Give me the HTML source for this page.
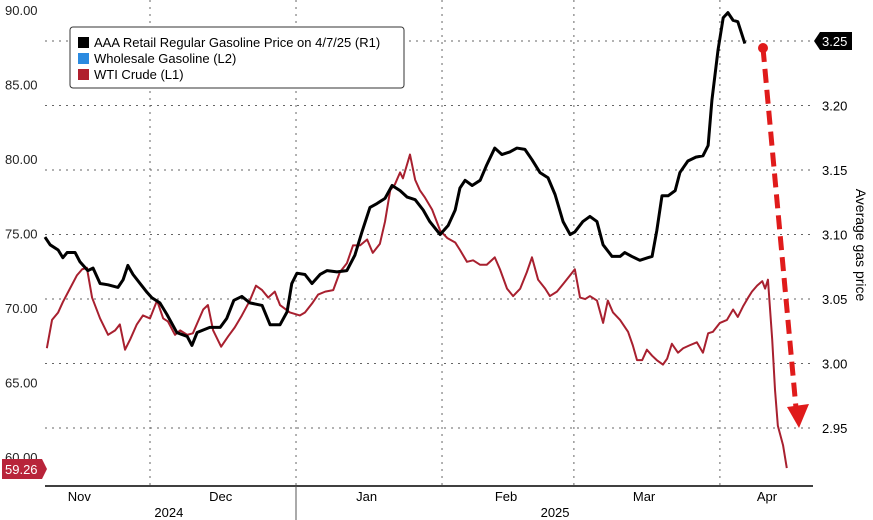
<!DOCTYPE html>
<html><head><meta charset="utf-8"><style>
body{margin:0;background:#fff;}
svg{display:block;font-family:"Liberation Sans",sans-serif;}
</style></head><body>
<svg id="chart" width="873" height="520">
<g id="grid"></g>
<g id="lines"></g>
<g id="axes"></g>
<g>
<rect x="70" y="27" width="334" height="61" rx="3" fill="#fff" stroke="#333" stroke-width="1"/>
<rect x="78" y="37" width="11" height="11" fill="#000"/>
<text x="94" y="47" font-size="13">AAA Retail Regular Gasoline Price on 4/7/25 (R1)</text>
<rect x="78" y="53" width="11" height="11" fill="#2a8ae0"/>
<text x="94" y="63" font-size="13">Wholesale Gasoline (L2)</text>
<rect x="78" y="69" width="11" height="11" fill="#b0202e"/>
<text x="94" y="79" font-size="13">WTI Crude (L1)</text>
</g>
<text transform="translate(856,245) rotate(90)" text-anchor="middle" font-size="14">Average gas price</text>
</svg>
<script>
const ns="http://www.w3.org/2000/svg";
const leftTicks=[90,85,80,75,70,65,60];
const rightTicks=[3.25,3.20,3.15,3.10,3.05,3.00,2.95];
const months=["Nov","Dec","Jan","Feb","Mar","Apr"];
const monthDays=[-15,15,46,75.6,104.9,131];
const monthBounds=[0,31,62,90,121];
const years=["2024","2025"];
const yearDays=[4,86];
const retailDays=[-22.3,-21.2,-19.5,-18.5,-17.6,-15.9,-14.9,-13.2,-12.1,-10.6,-8.9,-6.8,-5.7,-4.7,-3.6,-2.1,-0.6,0.4,2.1,3.6,5.7,7.9,8.9,10,11.3,12.7,14.9,16.3,17.8,19.5,21.2,23.8,25.5,27.6,29.1,30.1,31.2,32.9,34.4,36.1,37.6,39.7,41.8,43.5,45,46.7,48.2,49.9,51.4,53.1,54.6,56.3,58,59.4,61.6,63.3,64.8,65.8,66.9,68.4,70.1,71.5,73.2,74.7,76.4,77.9,79.6,81.1,82.8,84.5,86,87.7,89.2,90.2,91.9,93.4,94.9,96.2,98.1,99.8,100.8,102.3,104,105.7,106.6,107.6,108.7,110,111.5,112.5,114.2,115.9,117.4,118.5,119.3,120.6,121.7,122.7,123.8,124.8,126.3];
const retailVals=[3.098,3.092,3.088,3.082,3.086,3.086,3.079,3.072,3.074,3.062,3.061,3.059,3.065,3.076,3.069,3.062,3.055,3.051,3.047,3.038,3.024,3.021,3.014,3.024,3.026,3.028,3.028,3.035,3.049,3.052,3.047,3.045,3.030,3.030,3.040,3.062,3.070,3.069,3.062,3.069,3.072,3.071,3.072,3.084,3.102,3.121,3.124,3.128,3.138,3.134,3.129,3.127,3.119,3.110,3.100,3.107,3.119,3.136,3.142,3.138,3.142,3.154,3.167,3.162,3.164,3.167,3.166,3.158,3.148,3.144,3.131,3.110,3.100,3.102,3.110,3.114,3.110,3.092,3.083,3.083,3.086,3.083,3.080,3.082,3.083,3.103,3.130,3.130,3.134,3.148,3.157,3.160,3.161,3.169,3.204,3.243,3.268,3.272,3.266,3.265,3.248];
const wtiDays=[-21.9,-20.8,-19.5,-18.5,-17,-15.5,-14.4,-13.4,-12.3,-10.6,-8.9,-7.4,-6.4,-5.3,-4.2,-2.8,-1.5,0,1.5,2.8,3.8,5.3,6.4,7.9,9.1,10.2,11.3,12.3,13.4,15.1,16.6,18,19.5,21.2,22.5,23.8,25.1,26.5,27.6,29.7,31.8,32.9,34.4,35.7,37.2,38.9,40.3,41.8,43.1,44.6,46.1,47.3,48.8,49.9,51,52,53.1,53.7,55.2,56.3,57.3,58.4,59.9,61.6,63.1,64.8,65.8,67.3,68.6,70.1,71.5,73.2,74.3,75.8,77.1,78.6,80,81.1,82.4,83.9,84.9,86.4,87.7,89.2,90.2,91.3,92.4,93.4,94.9,96.2,97.2,98.3,99.8,101.5,102.5,103.4,104.5,105.5,106.6,107.6,108.9,109.8,110.8,112.1,113.2,114.6,116.1,117.4,118.5,119.5,121,122.5,123.8,124.8,125.9,127,127.8,128.9,130,130.6,131.2,132.1,132.7,133.3,134.4,135.2];
const wtiVals=[67.3,69.2,69.7,70.4,71.3,72.2,72.6,72.7,70.7,69.3,68.2,68.5,68.9,67.2,67.9,68.9,69.5,69.3,70.5,69.3,69.1,68.2,68.5,68.2,68.3,69.1,69.9,70.2,68.5,67.4,68.1,68.7,69.5,70.5,71.5,71.2,70.7,71.1,70.2,69.7,69.5,69.7,70.3,70.9,71.1,71.2,72.4,73.0,74.2,74.2,74.6,73.7,74.3,75.8,77.9,78.3,79.1,78.7,80.3,78.6,77.9,77.4,76.6,75.2,74.7,74.4,73.9,73.1,73.2,72.9,72.9,73.4,72.6,71.3,70.8,71.3,72.4,73.4,71.9,71.3,70.8,71.1,71.6,72.2,72.6,70.7,70.6,70.8,70.5,69.0,70.5,69.7,69.2,68.4,67.5,66.5,66.5,67.2,66.8,66.5,66.2,66.6,67.6,67.0,67.3,67.5,67.7,67.0,68.3,68.4,69.0,69.2,69.9,69.4,70.1,70.7,71.1,71.5,71.8,71.3,71.9,67.9,64.5,62.1,60.8,59.26];
const lastWti=59.26, lastRetail=3.25;

const xOf=d=>150+d*4.71;
const yL=v=>10+(90-v)*14.9;
const yR=v=>41+(3.25-v)*1290;
const X0=45,X1=813,YB=486;
function el(tag,attrs,parent,text){const e=document.createElementNS(ns,tag);for(const k in attrs)e.setAttribute(k,attrs[k]);if(text!==undefined)e.textContent=text;parent.appendChild(e);return e;}
const grid=document.getElementById('grid'),axes=document.getElementById('axes'),lines=document.getElementById('lines');
rightTicks.forEach(t=>{
  const g=el('line',{x1:X0,x2:X1,y1:yR(t),y2:yR(t),stroke:'#666','stroke-dasharray':'2,5','stroke-width':1},grid);
  
  
  if(t!==lastRetail){const tx=el('text',{x:822,y:yR(t)+5,'font-size':13},axes,t.toFixed(2));
  
  }
});
leftTicks.forEach(t=>{
  const tx=el('text',{x:5,y:yL(t)+5,'font-size':13,fill:'#222'},axes,t.toFixed(2));
  
  
});
monthBounds.forEach(d=>{
  const g=el('line',{x1:xOf(d),x2:xOf(d),y1:0,y2:YB,stroke:'#666','stroke-dasharray':'2,5','stroke-width':1},grid);
  
  
});
const ax=el('line',{x1:X0,x2:X1,y1:YB,y2:YB,stroke:'#000','stroke-width':1.5},axes);


const sep=el('line',{x1:xOf(31),x2:xOf(31),y1:YB,y2:520,stroke:'#555','stroke-width':1},axes);


months.forEach((m,i)=>{
  const tx=el('text',{x:xOf(monthDays[i]),y:501,'font-size':13,'text-anchor':'middle'},axes,m);
  
  
});
years.forEach((y,i)=>{
  const tx=el('text',{x:xOf(yearDays[i]),y:517,'font-size':13,'text-anchor':'middle'},axes,y);
  
  
});
const wp=el('polyline',{points:wtiDays.map((d,i)=>xOf(d)+','+yL(wtiVals[i])).join(' '),fill:'none',stroke:'#a8202f','stroke-width':2,'stroke-linejoin':'round'},lines);


const rp=el('polyline',{points:retailDays.map((d,i)=>xOf(d)+','+yR(retailVals[i])).join(' '),fill:'none',stroke:'#000','stroke-width':3,'stroke-linejoin':'round'},lines);


const al=el('line',{x1:763,y1:48,x2:796,y2:408,stroke:'#e01b1b','stroke-width':5,'stroke-dasharray':'14,7'},lines);


const ah=el('polygon',{points:'787,407 809,404 799,428',fill:'#e01b1b'},lines);


const ad=el('circle',{cx:763,cy:48,r:5,fill:'#e01b1b'},lines);


const rt=el('polygon',{points:`814,${yR(lastRetail)} 820,${yR(lastRetail)-9} 852,${yR(lastRetail)-9} 852,${yR(lastRetail)+9} 820,${yR(lastRetail)+9}`,fill:'#000'},axes);


const rtt=el('text',{x:822,y:yR(lastRetail)+5,'font-size':13,fill:'#fff'},axes,lastRetail.toFixed(2));


const ly=yL(lastWti)+1;
const lt=el('polygon',{points:`2,${ly-10} 42,${ly-10} 47,${ly} 42,${ly+10} 2,${ly+10}`,fill:'#b8243a'},axes);


const ltt=el('text',{x:5,y:ly+5,'font-size':13,fill:'#fff'},axes,lastWti.toFixed(2));


</script>
</body></html>
